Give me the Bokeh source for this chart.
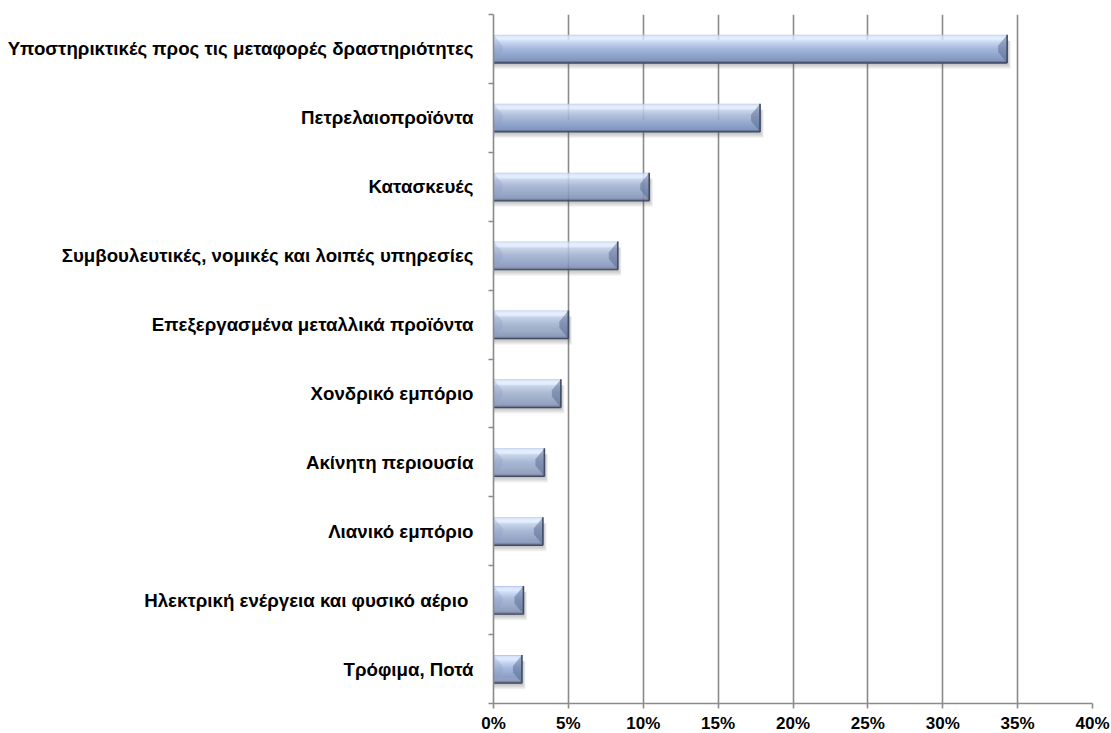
import numpy as np
from bokeh.plotting import figure
from bokeh.models import FixedTicker, PrintfTickFormatter, Range1d, ColumnDataSource
from bokeh.embed import file_html
from bokeh.resources import INLINE

# ---- data (top to bottom as in the chart) ----
categories = [
    "Υποστηρικτικές προς τις μεταφορές δραστηριότητες",
    "Πετρελαιοπροϊόντα",
    "Κατασκευές",
    "Συμβουλευτικές, νομικές και λοιπές υπηρεσίες",
    "Επεξεργασμένα μεταλλικά προϊόντα",
    "Χονδρικό εμπόριο",
    "Ακίνητη περιουσία",
    "Λιανικό εμπόριο",
    "Ηλεκτρική ενέργεια και φυσικό αέριο\u00a0",
    "Τρόφιμα, Ποτά",
]
values = [34.3, 17.8, 10.4, 8.3, 5.0, 4.5, 3.4, 3.3, 2.0, 1.9]
x_ticks = [0, 5, 10, 15, 20, 25, 30, 35, 40]

n = len(categories)
pos = [n - 1 - i for i in range(n)]  # top category at highest position

FONT = "Liberation Sans"
GRID = "#8a8a8a"

ML, MT, MR, MB = 493, 14, 19, 28
FW, FH = 599, 689
p = figure(output_backend="svg", toolbar_location=None,
           frame_width=FW, frame_height=FH,
           x_range=Range1d(0, 40), y_range=Range1d(-0.5, n - 0.5),
           min_border_left=ML, min_border_top=MT, min_border_right=MR, min_border_bottom=MB)
p.outline_line_color = None
p.background_fill_color = "white"
p.border_fill_color = "white"

# grids
p.ygrid.grid_line_color = None
p.xgrid.ticker = FixedTicker(ticks=x_ticks)
p.xgrid.grid_line_color = GRID
p.xgrid.grid_line_width = 1.6

# x axis
xa = p.xaxis[0]
xa.ticker = FixedTicker(ticks=x_ticks, minor_ticks=[])
xa.formatter = PrintfTickFormatter(format="%d%%")
xa.axis_line_color = GRID
xa.axis_line_width = 1.6
xa.major_tick_line_color = GRID
xa.major_tick_line_width = 1.6
xa.major_tick_out = 5
xa.major_tick_in = 0
xa.minor_tick_line_color = None
xa.major_label_standoff = 5
xa.major_label_text_font = FONT
xa.major_label_text_font_style = "bold"
xa.major_label_text_font_size = "17px"
xa.major_label_text_color = "black"

# y axis: labels at category centres, ticks at boundaries
ya = p.yaxis[0]
ya.ticker = FixedTicker(ticks=pos, minor_ticks=[k - 0.5 for k in range(n + 1)])
ya.major_label_overrides = {pos[i]: categories[i] for i in range(n)}
ya.axis_line_color = GRID
ya.axis_line_width = 1.6
ya.major_tick_line_color = None
ya.major_tick_out = 0
ya.major_tick_in = 0
ya.minor_tick_line_color = GRID
ya.minor_tick_line_width = 1.6
ya.minor_tick_out = 5
ya.minor_tick_in = 0
ya.major_label_standoff = 15
ya.major_label_text_font = FONT
ya.major_label_text_font_style = "bold"
ya.major_label_text_font_size = "18.7px"
ya.major_label_text_color = "black"

# ---- bevelled bars ----
half = 0.205
px_x = 40.0 / FW         # data units per pixel (x)
px_y = float(n) / FH     # data units per pixel (y)
bev_x = 9 * px_x
bev_y = 11 * px_y

# soft drop shadow
for k in range(1, 7):
    p.quad(left=[0] * n, right=[v + k * 0.6 * px_x for v in values],
           bottom=[c - half - k * px_y for c in pos],
           top=[c + half - 6 * px_y for c in pos],
           fill_color="#505050", fill_alpha=0.07, line_color=None)

stops_f = [0.0, 0.05, 0.14, 0.3, 0.5, 0.72, 0.92, 0.965, 1.0]
stops_c = ["#a9bde2", "#d4e2fa", "#dfebff", "#c0d1ee", "#a3b6da", "#91a5cc", "#8294bb", "#5c6985", "#434e67"]


def hex2rgb(h):
    return np.array([int(h[i:i + 2], 16) for i in (1, 3, 5)], dtype=float)


rgb = np.array([hex2rgb(c) for c in stops_c])
N = 28
L, R, B, T, C = [], [], [], [], []
for v, c in zip(values, pos):
    top = c + half
    for s in range(N):
        f = (s + 0.5) / N
        col = [np.interp(f, stops_f, rgb[:, j]) for j in range(3)]
        L.append(0.0)
        R.append(v)
        T.append(top - s * 2 * half / N)
        B.append(top - (s + 1) * 2 * half / N)
        C.append("#%02x%02x%02x" % tuple(int(round(x)) for x in col))
p.quad(left="l", right="r", bottom="b", top="t", fill_color="c", line_color=None,
       source=ColumnDataSource(dict(l=L, r=R, b=B, t=T, c=C)))

# side bevel faces
lx, ly, rx, ry = [], [], [], []
for v, c in zip(values, pos):
    bx = min(bev_x, v / 2.0)
    top, bot = c + half, c - half
    lx.append([0, bx, bx, 0])
    ly.append([top, top - bev_y, bot + bev_y, bot])
    rx.append([v, v - bx, v - bx, v])
    ry.append([top, top - bev_y, bot + bev_y, bot])
p.patches(lx, ly, fill_color="#8a9dc4", fill_alpha=0.3, line_color=None)
p.patches(rx, ry, fill_color="#4d5f88", fill_alpha=0.45, line_color=None)

# edges
p.segment(x0=values, y0=[c - half for c in pos], x1=values, y1=[c + half for c in pos],
          line_color="#404b64", line_width=1.6)
p.segment(x0=[0] * n, y0=[c - half for c in pos], x1=values, y1=[c - half for c in pos],
          line_color="#404b64", line_width=1.2)

open("out.html", "w").write(file_html(p, INLINE))
